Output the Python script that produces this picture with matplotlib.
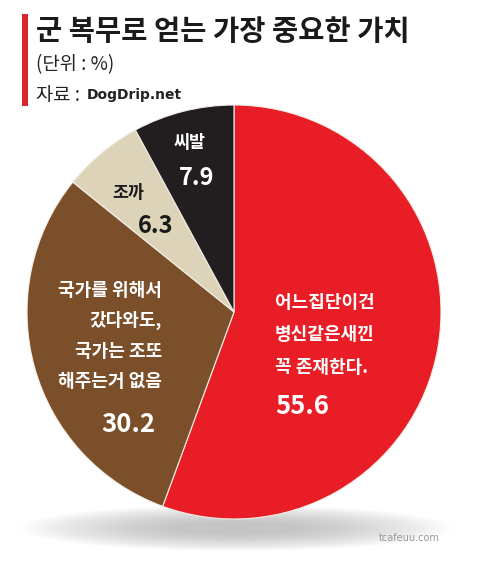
import matplotlib.pyplot as plt
from matplotlib.patches import Ellipse, Rectangle

plt.rcParams['font.family'] = ['Noto Sans CJK KR', 'DejaVu Sans']

# data
labels = ['어느집단이건\n병신같은새낀\n꼭 존재한다.', '국가를 위해서\n갔다와도,\n국가는 조또\n해주는거 없음', '조까', '씨발']
values = [55.6, 30.2, 6.3, 7.9]
colors = ['#e91d25', '#7b4f2a', '#ddd3b9', '#221e1f']

W, H = 478, 574
fig = plt.figure(figsize=(W / 100, H / 100), dpi=100)
ax = fig.add_axes([0, 0, 1, 1])

def py(y):
    return H - y

# soft shadow under the pie
for i in range(20):
    ax.add_patch(Ellipse((236, py(528)), 430 - i * 16, 46 - i * 1.8,
                         color='#a0a0a0', alpha=0.04, lw=0, zorder=1))

cx, cy, r = 234, py(312), 207
ax.pie(values, colors=colors, startangle=90, counterclock=False,
       center=(cx, cy), radius=r, frame=True,
       wedgeprops=dict(linewidth=0.8, edgecolor='#f4efe6', zorder=3))
ax.set_xlim(0, W)
ax.set_ylim(0, H)
ax.set_aspect('equal')
ax.axis('off')

# header
ax.add_patch(Rectangle((22, py(106)), 6, 92, color='#d7262e', lw=0))
ax.text(36, py(32), '군 복무로 얻는 가장 중요한 가치', fontsize=20.5, fontweight='heavy',
        va='center', ha='left', color='#1a1a1a')
ax.text(36, py(65), '(단위 : %)', fontsize=13.5, va='center', ha='left', color='#222222')
ax.text(36, py(95), '자료 :', fontsize=13.5, va='center', ha='left', color='#222222')
ax.text(87, py(95), 'DogDrip.net', fontsize=10, fontweight='bold', va='center',
        ha='left', color='#222222', family='DejaVu Sans')

# labels inside wedges
ax.text(275, py(335), labels[0], fontsize=13, fontweight='bold', color='white',
        ha='left', va='center', linespacing=1.9)
ax.text(275, py(407), f'{values[0]}', fontsize=18.5, fontweight='bold', color='white',
        ha='left', va='center')

ax.text(162, py(336), labels[1], fontsize=13, fontweight='bold', color='white',
        ha='right', va='center', linespacing=1.75)
ax.text(128, py(425), f'{values[1]}', fontsize=18.5, fontweight='bold', color='white',
        ha='center', va='center')

ax.text(128, py(193), labels[2], fontsize=12.5, fontweight='bold', color='#1a1a1a',
        ha='center', va='center')
ax.text(156, py(226), f'{values[2]}', fontsize=17, fontweight='bold', color='#1a1a1a',
        ha='center', va='center')

ax.text(190, py(143), labels[3], fontsize=12.5, fontweight='bold', color='white',
        ha='center', va='center')
ax.text(197, py(178), f'{values[3]}', fontsize=17, fontweight='bold', color='white',
        ha='center', va='center')

ax.text(440, py(538), 'tcafeuu.com', fontsize=7, color='#9a9a9a', ha='right', va='center',
        family='DejaVu Sans')

fig.savefig('out.png', dpi=100)
